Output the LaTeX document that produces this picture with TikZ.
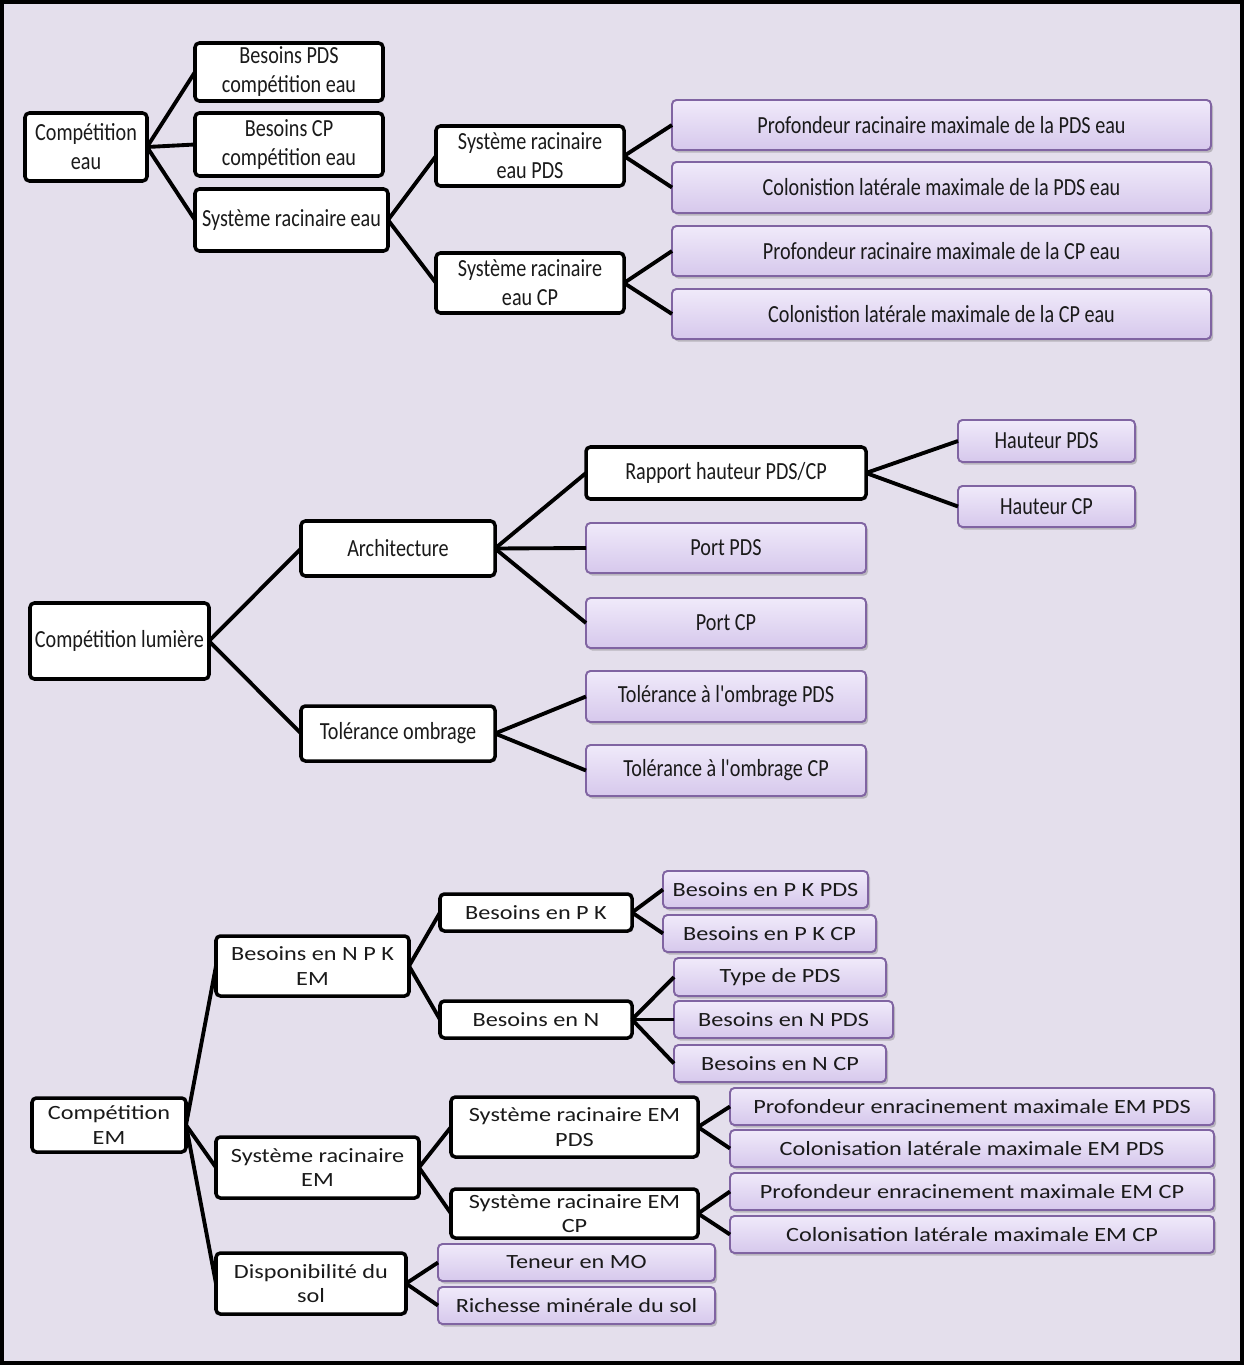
\documentclass[tikz,border=0pt]{standalone}
\usepackage{fontspec}
\setmainfont{Carlito}
\newfontfamily\narrowf[FakeStretch=0.82]{Carlito}
\newfontfamily\widef[FakeStretch=1.2]{Carlito}
\usetikzlibrary{shadows}
\definecolor{bg}{HTML}{E4DFEC}
\definecolor{pborder}{HTML}{8064A2}
\definecolor{ptop}{HTML}{F0EAFA}
\definecolor{pbot}{HTML}{D6C8EC}
\definecolor{txt}{HTML}{1A1A1A}
\newcommand\bx[7]{\node[#2, minimum width={0.02cm*(#5-#3)}, minimum height={0.02cm*(#6-#4)}] (#1) at ({(#3+#5)/2},{(#4+#6)/2}) {#7};}
\tikzset{
  base/.style={inner sep=0pt, outer sep=0pt, align=center, text=txt},
  wbox/.style={base, draw=black, line width=2pt, rounded corners=2.5pt, fill=white},
  pbox/.style={base, draw=pborder, line width=1.1pt, rounded corners=2.5pt, top color=ptop, bottom color=pbot,
     drop shadow={shadow xshift=1.2pt, shadow yshift=-1.5pt, opacity=0.35, fill=black!60}},
  topf/.style={font=\narrowf\fontsize{14}{16.5}\selectfont},
  botf/.style={font=\widef\fontsize{11.5}{14}\selectfont},
  conn/.style={draw=black, line width=2.2pt}
}
\begin{document}
\begin{tikzpicture}[x=0.02cm,y=-0.02cm]
\path[use as bounding box] (0,0) rectangle (1244,1365);
\fill[bg] (0,0) rectangle (1244,1365);
\draw[black, line width=2.4pt] (2,2) rectangle (1242,1363);

% ---------- Section 1 ----------
\begin{scope}[every node/.append style={topf}]
\bx{ce}{wbox}{25}{113}{147}{181}{Compétition\\eau}
\bx{bpds}{wbox}{195}{43}{383}{101}{Besoins PDS\\compétition eau}
\bx{bcp}{wbox}{195}{113}{383}{176}{Besoins CP\\compétition eau}
\bx{sre}{wbox}{195}{189}{388}{251}{Système racinaire eau}
\bx{srep}{wbox}{436}{126}{624}{186}{Système racinaire\\eau PDS}
\bx{srec}{wbox}{436}{253}{624}{313}{Système racinaire\\eau CP}
\bx{pa}{pbox}{672}{100}{1211}{150}{Profondeur racinaire maximale de la PDS eau}
\bx{pb}{pbox}{672}{162}{1211}{213}{Colonistion latérale maximale de la PDS eau}
\bx{pc}{pbox}{672}{226}{1211}{276}{Profondeur racinaire maximale de la CP eau}
\bx{pd}{pbox}{672}{289}{1211}{339}{Colonistion latérale maximale de la CP eau}
\end{scope}
\draw[conn] (ce.east) -- (bpds.west);
\draw[conn] (ce.east) -- (bcp.west);
\draw[conn] (ce.east) -- (sre.west);
\draw[conn] (sre.east) -- (srep.west);
\draw[conn] (sre.east) -- (srec.west);
\draw[conn] (srep.east) -- (pa.west);
\draw[conn] (srep.east) -- (pb.west);
\draw[conn] (srec.east) -- (pc.west);
\draw[conn] (srec.east) -- (pd.west);

% ---------- Section 2 ----------
\begin{scope}[every node/.append style={topf}]
\bx{cl}{wbox}{30}{603}{209}{679}{Compétition lumière}
\bx{arch}{wbox}{301}{521}{495}{576}{Architecture}
\bx{tol}{wbox}{301}{706}{495}{761}{Tolérance ombrage}
\bx{rap}{wbox}{586}{447}{866}{499}{Rapport hauteur PDS/CP}
\bx{portp}{pbox}{586}{523}{866}{573}{Port PDS}
\bx{portc}{pbox}{586}{598}{866}{648}{Port CP}
\bx{tolp}{pbox}{586}{671}{866}{722}{Tolérance à l'ombrage PDS}
\bx{tolc}{pbox}{586}{745}{866}{796}{Tolérance à l'ombrage CP}
\bx{hp}{pbox}{958}{420}{1135}{462}{Hauteur PDS}
\bx{hc}{pbox}{958}{486}{1135}{527}{Hauteur CP}
\end{scope}
\draw[conn] (cl.east) -- (arch.west);
\draw[conn] (cl.east) -- (tol.west);
\draw[conn] (arch.east) -- (rap.west);
\draw[conn] (arch.east) -- (portp.west);
\draw[conn] (arch.east) -- (portc.west);
\draw[conn] (tol.east) -- (tolp.west);
\draw[conn] (tol.east) -- (tolc.west);
\draw[conn] (rap.east) -- (hp.west);
\draw[conn] (rap.east) -- (hc.west);

% ---------- Section 3 ----------
\begin{scope}[every node/.append style={botf}]
\bx{cem}{wbox}{32}{1098}{186}{1152}{Compétition\\EM}
\bx{npk}{wbox}{216}{936}{409}{996}{Besoins en N P K\\EM}
\bx{srem}{wbox}{216}{1137}{419}{1198}{Système racinaire\\EM}
\bx{dispo}{wbox}{216}{1253}{406}{1314}{Disponibilité du\\sol}
\bx{bpk}{wbox}{440}{894}{632}{931}{Besoins en P K}
\bx{bn}{wbox}{440}{1001}{632}{1038}{Besoins en N}
\bx{bpkp}{pbox}{663}{871}{868}{908}{Besoins en P K PDS}
\bx{bpkc}{pbox}{663}{915}{876}{952}{Besoins en P K CP}
\bx{type}{pbox}{674}{958}{886}{996}{Type de PDS}
\bx{bnp}{pbox}{674}{1001}{893}{1038}{Besoins en N PDS}
\bx{bnc}{pbox}{674}{1045}{886}{1082}{Besoins en N CP}
\bx{sremp}{wbox}{451}{1097}{698}{1157}{Système racinaire EM\\PDS}
\bx{sremc}{wbox}{451}{1189}{698}{1238}{Système racinaire EM\\CP}
\bx{pep}{pbox}{730}{1088}{1214}{1125}{Profondeur enracinement maximale EM PDS}
\bx{clp}{pbox}{730}{1130}{1214}{1167}{Colonisation latérale maximale EM PDS}
\bx{pec}{pbox}{730}{1173}{1214}{1210}{Profondeur enracinement maximale EM CP}
\bx{clc}{pbox}{730}{1216}{1214}{1253}{Colonisation latérale maximale EM CP}
\bx{mo}{pbox}{438}{1244}{715}{1281}{Teneur en MO}
\bx{rich}{pbox}{438}{1287}{715}{1324}{Richesse minérale du sol}
\end{scope}
\draw[conn] (cem.east) -- (npk.west);
\draw[conn] (cem.east) -- (srem.west);
\draw[conn] (cem.east) -- (dispo.west);
\draw[conn] (npk.east) -- (bpk.west);
\draw[conn] (npk.east) -- (bn.west);
\draw[conn] (bpk.east) -- (bpkp.west);
\draw[conn] (bpk.east) -- (bpkc.west);
\draw[conn] (bn.east) -- (type.west);
\draw[conn] (bn.east) -- (bnp.west);
\draw[conn] (bn.east) -- (bnc.west);
\draw[conn] (srem.east) -- (sremp.west);
\draw[conn] (srem.east) -- (sremc.west);
\draw[conn] (sremp.east) -- (pep.west);
\draw[conn] (sremp.east) -- (clp.west);
\draw[conn] (sremc.east) -- (pec.west);
\draw[conn] (sremc.east) -- (clc.west);
\draw[conn] (dispo.east) -- (mo.west);
\draw[conn] (dispo.east) -- (rich.west);
\end{tikzpicture}
\end{document}
